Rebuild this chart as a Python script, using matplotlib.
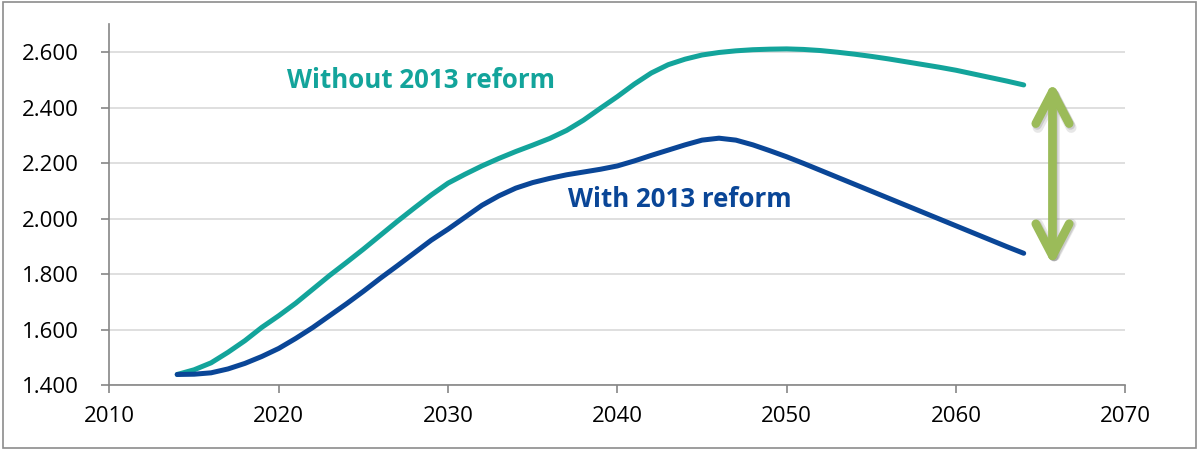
import numpy as np
import matplotlib.pyplot as plt
from matplotlib.patches import FancyArrowPatch, Rectangle
from matplotlib.transforms import ScaledTranslation

# data (one value per year)
years = list(range(2014, 2065))
without_reform = [1438, 1455, 1480, 1518, 1560, 1608, 1650, 1695, 1745, 1795,
                  1842, 1890, 1940, 1990, 2038, 2085, 2128, 2160, 2190, 2217,
                  2242, 2265, 2289, 2318, 2355, 2398, 2440, 2485, 2525, 2555,
                  2575, 2590, 2599, 2605, 2609, 2611, 2612, 2610, 2606, 2600,
                  2593, 2585, 2576, 2566, 2556, 2546, 2535, 2522, 2509, 2496,
                  2482]
with_reform = [1438, 1439, 1444, 1458, 1478, 1503, 1532, 1568, 1607, 1650,
               1693, 1738, 1785, 1830, 1876, 1922, 1962, 2005, 2048, 2082,
               2110, 2130, 2145, 2158, 2168, 2178, 2190, 2208, 2228, 2247,
               2266, 2283, 2290, 2283, 2266, 2245, 2223, 2199, 2174, 2149,
               2124, 2099, 2074, 2049, 2024, 1999, 1974, 1949, 1924, 1899,
               1875]

x_ticks = [2010, 2020, 2030, 2040, 2050, 2060, 2070]
y_ticks = [1400, 1600, 1800, 2000, 2200, 2400, 2600]
y_tick_labels = ["1.400", "1.600", "1.800", "2.000", "2.200", "2.400", "2.600"]

teal = "#13A49B"
blue = "#0A4697"
green = "#9BBB59"

fig = plt.figure(figsize=(11.98, 4.5), dpi=100)
ax = fig.add_axes([0.0914, 0.1444, 0.8479, 0.8012])

ax.plot(years, without_reform, color=teal, lw=3.6, solid_capstyle="round", zorder=3)
ax.plot(years, with_reform, color=blue, lw=3.6, solid_capstyle="round", zorder=3)

ax.set_xlim(2010, 2070)
ax.set_ylim(1400, 2700)
ax.set_xticks(x_ticks)
ax.set_yticks(y_ticks)
ax.set_yticklabels(y_tick_labels)

for lab in ax.get_xticklabels() + ax.get_yticklabels():
    lab.set_fontfamily("Open Sans")
    lab.set_fontsize(16)
    lab.set_color("black")

ax.grid(axis="y", color="#D9D9D9", lw=1.2, zorder=0)
ax.set_axisbelow(True)
for s in ["top", "right"]:
    ax.spines[s].set_visible(False)
for s in ["left", "bottom"]:
    ax.spines[s].set_color("#868686")
    ax.spines[s].set_linewidth(1.2)
ax.tick_params(axis="both", direction="out", length=6, width=1.2, color="#868686")
ax.tick_params(axis="x", pad=9)
ax.tick_params(axis="y", pad=16)

ax.text(2028.4, 2471, "Without 2013 reform", color=teal, fontsize=18.6, fontweight="bold",
        family="Open Sans", ha="center", va="baseline")
ax.text(2043.7, 2042, "With 2013 reform", color=blue, fontsize=18.6, fontweight="bold",
        family="Open Sans", ha="center", va="baseline")

# double arrow showing the gap
arrow_x = 2065.7
arrow_top = 2492
arrow_bottom = 1832
style = "<->,head_length=1.15,head_width=0.6"
for dx, dy, col, a, w in [(1.5, -1.5, "#7A7A7A", 0.18, 7.6), (1.0, -1.0, "#7A7A7A", 0.25, 6.5)]:
    shadow = FancyArrowPatch((arrow_x, arrow_bottom), (arrow_x, arrow_top), arrowstyle=style,
                             mutation_scale=20, lw=w, color=col, alpha=a,
                             capstyle="round", joinstyle="round", shrinkA=0, shrinkB=0,
                             transform=ax.transData + ScaledTranslation(dx / 72, dy / 72, fig.dpi_scale_trans),
                             clip_on=False, zorder=4)
    ax.add_patch(shadow)
arrow = FancyArrowPatch((arrow_x, arrow_bottom), (arrow_x, arrow_top), arrowstyle=style,
                        mutation_scale=20, lw=6.3, color=green, shrinkA=0, shrinkB=0,
                        capstyle="round", joinstyle="round", clip_on=False, zorder=5)
ax.add_patch(arrow)

# frame round the whole picture
fig.patches.append(Rectangle((0.0025, 0.004), 0.9955, 0.991, transform=fig.transFigure,
                             fill=False, edgecolor="#8C8C8C", lw=1.2))

fig.savefig("out.png", dpi=100)
